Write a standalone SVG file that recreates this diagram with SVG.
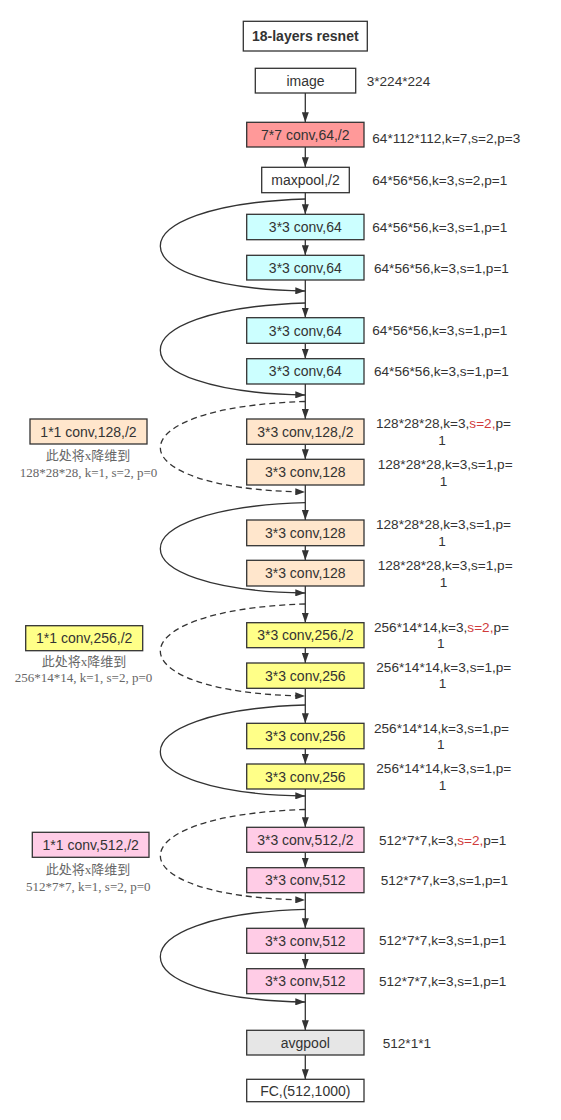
<svg xmlns="http://www.w3.org/2000/svg" width="561" height="1120" viewBox="0 0 561 1120">
<defs>
<marker id="ah" viewBox="0 0 10 7" refX="10" refY="3.5" markerWidth="10" markerHeight="7" markerUnits="userSpaceOnUse" orient="auto">
<path d="M0,0 L10,3.5 L0,7 z" fill="#333"/>
</marker>
<style>
.box{stroke:#333;stroke-width:1.3}
.t{font-family:"Liberation Sans",Arial,sans-serif;font-size:14px;fill:#333;text-anchor:middle}
.lb{font-family:"Liberation Sans",Arial,sans-serif;font-size:13.6px;fill:#333}
.lc{font-family:"Liberation Sans",Arial,sans-serif;font-size:13.6px;fill:#333;text-anchor:middle}
.note{font-family:"Liberation Serif","Noto Sans CJK SC",serif;font-size:13px;fill:#666;text-anchor:middle}
.red{fill:#d03a3a}
.ln{fill:none;stroke:#333;stroke-width:1.3}
.dash{stroke-dasharray:6 4}
.white{fill:#fff}.r{fill:#ff9999}.c{fill:#ccffff}.o{fill:#ffe6cc}.y{fill:#ffff88}.p{fill:#ffcce6}.g{fill:#e6e6e6}
</style>
</defs>
<rect width="561" height="1120" fill="#fff"/>

<g id="connectors">
<line class="ln" x1="305.3" y1="93" x2="305.3" y2="122.3" marker-end="url(#ah)"/>
<line class="ln" x1="305.3" y1="147" x2="305.3" y2="167.3" marker-end="url(#ah)"/>
<line class="ln" x1="305.3" y1="192.7" x2="305.3" y2="214.3" marker-end="url(#ah)"/>
<line class="ln" x1="305.3" y1="239.7" x2="305.3" y2="255.3" marker-end="url(#ah)"/>
<line class="ln" x1="305.3" y1="280" x2="305.3" y2="317.7" marker-end="url(#ah)"/>
<line class="ln" x1="305.3" y1="343.3" x2="305.3" y2="358.7" marker-end="url(#ah)"/>
<line class="ln" x1="305.3" y1="384" x2="305.3" y2="419" marker-end="url(#ah)"/>
<line class="ln" x1="305.3" y1="444.3" x2="305.3" y2="459.3" marker-end="url(#ah)"/>
<line class="ln" x1="305.3" y1="485" x2="305.3" y2="520" marker-end="url(#ah)"/>
<line class="ln" x1="305.3" y1="545.7" x2="305.3" y2="560.3" marker-end="url(#ah)"/>
<line class="ln" x1="305.3" y1="586" x2="305.3" y2="622.7" marker-end="url(#ah)"/>
<line class="ln" x1="305.3" y1="647.7" x2="305.3" y2="663" marker-end="url(#ah)"/>
<line class="ln" x1="305.3" y1="688.3" x2="305.3" y2="723.3" marker-end="url(#ah)"/>
<line class="ln" x1="305.3" y1="748.7" x2="305.3" y2="764" marker-end="url(#ah)"/>
<line class="ln" x1="305.3" y1="789" x2="305.3" y2="827.3" marker-end="url(#ah)"/>
<line class="ln" x1="305.3" y1="852.3" x2="305.3" y2="867.7" marker-end="url(#ah)"/>
<line class="ln" x1="305.3" y1="892.7" x2="305.3" y2="928.3" marker-end="url(#ah)"/>
<line class="ln" x1="305.3" y1="953.3" x2="305.3" y2="968.7" marker-end="url(#ah)"/>
<line class="ln" x1="305.3" y1="993.7" x2="305.3" y2="1030.3" marker-end="url(#ah)"/>
<line class="ln" x1="305.3" y1="1055" x2="305.3" y2="1079.3" marker-end="url(#ah)"/>

<path class="ln" d="M305.3,199 C112,205 112,288 305.3,291" marker-end="url(#ah)"/>
<path class="ln" d="M305.3,303 C112,309 112,392 305.3,395" marker-end="url(#ah)"/>
<path class="ln dash" d="M305.3,401.5 C112,407 112,489 305.3,492" marker-end="url(#ah)"/>
<path class="ln" d="M305.3,502.7 C112,508 112,590 305.3,593" marker-end="url(#ah)"/>
<path class="ln dash" d="M305.3,604 C112,610 112,693 305.3,696" marker-end="url(#ah)"/>
<path class="ln" d="M305.3,705 C112,711 112,793 305.3,796" marker-end="url(#ah)"/>
<path class="ln dash" d="M305.3,809.5 C112,815 112,897 305.3,900" marker-end="url(#ah)"/>
<path class="ln" d="M305.3,909.3 C112,915 112,999 305.3,1002" marker-end="url(#ah)"/>
</g>

<g id="title"><rect class="box white" x="243.3" y="21.3" width="124" height="29.7"/><text class="t" x="305.3" y="41.2" font-weight="bold">18-layers resnet</text></g>

<g id="image"><rect class="box white" x="255.3" y="68.3" width="100.4" height="24.7"/><text class="t" x="305.5" y="85.7">image</text><text class="lb" x="366.7" y="86">3*224*224</text></g>

<g id="conv7"><rect class="box r" x="246.7" y="122.3" width="117.3" height="24.7"/><text class="t" x="305.3" y="139.7">7*7 conv,64,/2</text><text class="lb" x="372.3" y="143">64*112*112,k=7,s=2,p=3</text></g>

<g id="maxpool"><rect class="box white" x="261.7" y="167.3" width="87.6" height="25.4"/><text class="t" x="305.5" y="185">maxpool,/2</text><text class="lb" x="372.3" y="185">64*56*56,k=3,s=2,p=1</text></g>

<g id="conv64a"><rect class="box c" x="246.7" y="214.3" width="117.3" height="25.4"/><text class="t" x="305.3" y="232">3*3 conv,64</text><text class="lb" x="372.3" y="231.7">64*56*56,k=3,s=1,p=1</text></g>
<g id="conv64b"><rect class="box c" x="246.7" y="255.3" width="117.3" height="24.7"/><text class="t" x="305.3" y="272.7">3*3 conv,64</text><text class="lb" x="374" y="272.7">64*56*56,k=3,s=1,p=1</text></g>
<g id="conv64c"><rect class="box c" x="246.7" y="317.7" width="117.3" height="25.6"/><text class="t" x="305.3" y="335.5">3*3 conv,64</text><text class="lb" x="372.3" y="335">64*56*56,k=3,s=1,p=1</text></g>
<g id="conv64d"><rect class="box c" x="246.7" y="358.7" width="117.3" height="25.3"/><text class="t" x="305.3" y="376.3">3*3 conv,64</text><text class="lb" x="374" y="376">64*56*56,k=3,s=1,p=1</text></g>

<g id="conv128a"><rect class="box o" x="246.7" y="419" width="117.3" height="25.3"/><text class="t" x="305.3" y="436.7">3*3 conv,128,/2</text><text class="lb" x="376" y="428.3">128*28*28,k=3,<tspan class="red">s=2,</tspan>p=</text><text class="lc" x="442" y="445">1</text></g>
<g id="conv128b"><rect class="box o" x="246.7" y="459.3" width="117.3" height="25.7"/><text class="t" x="305.3" y="477.2">3*3 conv,128</text><text class="lb" x="377.7" y="469">128*28*28,k=3,s=1,p=</text><text class="lc" x="443.5" y="486">1</text></g>
<g id="conv128c"><rect class="box o" x="246.7" y="520" width="117.3" height="25.7"/><text class="t" x="305.3" y="537.8">3*3 conv,128</text><text class="lb" x="376" y="529.3">128*28*28,k=3,s=1,p=</text><text class="lc" x="442" y="546">1</text></g>
<g id="conv128d"><rect class="box o" x="246.7" y="560.3" width="117.3" height="25.7"/><text class="t" x="305.3" y="578.2">3*3 conv,128</text><text class="lb" x="377.7" y="569.7">128*28*28,k=3,s=1,p=</text><text class="lc" x="443.5" y="586.7">1</text></g>

<g id="conv256a"><rect class="box y" x="246.7" y="622.7" width="117.3" height="25"/><text class="t" x="305.3" y="640.2">3*3 conv,256,/2</text><text class="lb" x="374" y="631.7">256*14*14,k=3,<tspan class="red">s=2,</tspan>p=</text><text class="lc" x="440.7" y="648.3">1</text></g>
<g id="conv256b"><rect class="box y" x="246.7" y="663" width="117.3" height="25.3"/><text class="t" x="305.3" y="680.7">3*3 conv,256</text><text class="lb" x="376.3" y="672.3">256*14*14,k=3,s=1,p=</text><text class="lc" x="442.5" y="688.3">1</text></g>
<g id="conv256c"><rect class="box y" x="246.7" y="723.3" width="117.3" height="25.4"/><text class="t" x="305.3" y="741">3*3 conv,256</text><text class="lb" x="374" y="732.7">256*14*14,k=3,s=1,p=</text><text class="lc" x="440.7" y="749">1</text></g>
<g id="conv256d"><rect class="box y" x="246.7" y="764" width="117.3" height="25"/><text class="t" x="305.3" y="781.5">3*3 conv,256</text><text class="lb" x="376.3" y="773.3">256*14*14,k=3,s=1,p=</text><text class="lc" x="442.5" y="790">1</text></g>

<g id="conv512a"><rect class="box p" x="246.7" y="827.3" width="117.3" height="25"/><text class="t" x="305.3" y="844.8">3*3 conv,512,/2</text><text class="lb" x="379" y="845">512*7*7,k=3,<tspan class="red">s=2,</tspan>p=1</text></g>
<g id="conv512b"><rect class="box p" x="246.7" y="867.7" width="117.3" height="25"/><text class="t" x="305.3" y="885.2">3*3 conv,512</text><text class="lb" x="380.7" y="885.3">512*7*7,k=3,s=1,p=1</text></g>
<g id="conv512c"><rect class="box p" x="246.7" y="928.3" width="117.3" height="25"/><text class="t" x="305.3" y="945.8">3*3 conv,512</text><text class="lb" x="379" y="945">512*7*7,k=3,s=1,p=1</text></g>
<g id="conv512d"><rect class="box p" x="246.7" y="968.7" width="117.3" height="25"/><text class="t" x="305.3" y="986.2">3*3 conv,512</text><text class="lb" x="379" y="986">512*7*7,k=3,s=1,p=1</text></g>

<g id="avgpool"><rect class="box g" x="246.7" y="1030.3" width="117.3" height="24.7"/><text class="t" x="305.3" y="1047.7">avgpool</text><text class="lb" x="382.7" y="1048">512*1*1</text></g>
<g id="fc"><rect class="box white" x="246.7" y="1079.3" width="117.3" height="22.4"/><text class="t" x="305.3" y="1095.5">FC,(512,1000)</text></g>

<g id="short128"><rect class="box o" x="30" y="419" width="117" height="25"/><text class="t" x="88.5" y="436.5">1*1 conv,128,/2</text><text class="note" x="88" y="460.2">此处将x降维到</text><text class="note" x="88.5" y="476.5">128*28*28, k=1, s=2, p=0</text></g>
<g id="short256"><rect class="box y" x="25.7" y="625.7" width="117" height="25"/><text class="t" x="84.2" y="643.2">1*1 conv,256,/2</text><text class="note" x="84" y="665.5">此处将x降维到</text><text class="note" x="83.5" y="682.2">256*14*14, k=1, s=2, p=0</text></g>
<g id="short512"><rect class="box p" x="32.3" y="832.3" width="116.7" height="25"/><text class="t" x="90.7" y="849.8">1*1 conv,512,/2</text><text class="note" x="88" y="873.8">此处将x降维到</text><text class="note" x="88.3" y="890.5">512*7*7, k=1, s=2, p=0</text></g>
</svg>
